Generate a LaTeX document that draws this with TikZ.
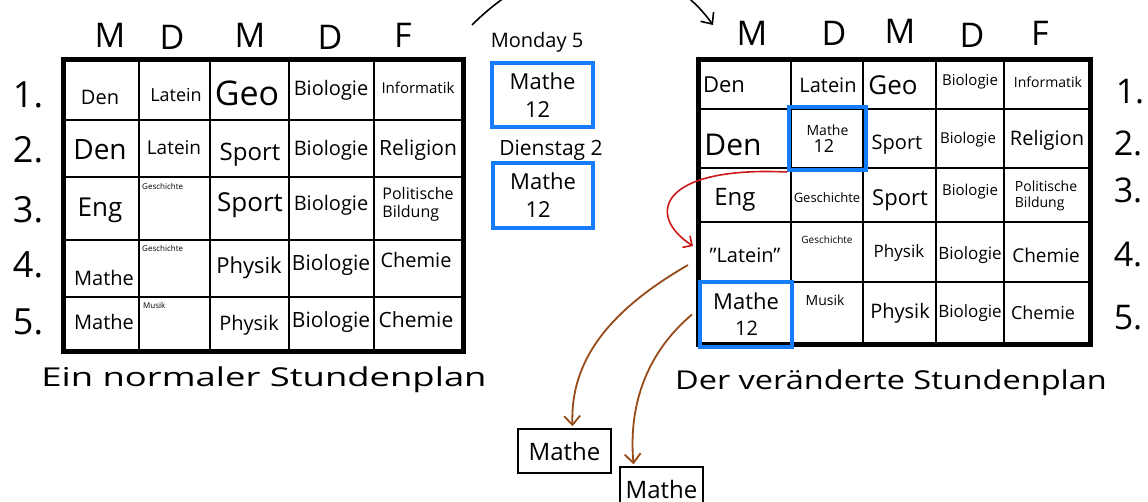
\documentclass[tikz,border=0pt]{standalone}
\usepackage{fontspec}
\setmainfont{Open Sans}
\usetikzlibrary{arrows.meta}
\newcommand\hfs[1]{\fontsize{#1}{#1}\selectfont}
\definecolor{bbox}{RGB}{22,124,250}
\definecolor{redarr}{RGB}{205,25,25}
\definecolor{brownarr}{RGB}{150,75,25}
\begin{document}
\begin{tikzpicture}[x=1pt,y=-1pt,
  tblframe/.style={line width=5pt},
  tblgrid/.style={line width=1.8pt},
  lbl/.style={inner sep=0pt},
  bluebox/.style={draw=bbox, line width=4pt, inner sep=0pt, align=left},
  plainbox/.style={draw, line width=1.5pt, inner sep=0pt},
  redconn/.style={draw=redarr, line width=1.6pt, -{Straight Barb[length=7pt,width=14pt]}},
  brownconn/.style={draw=brownarr, line width=1.8pt, -{Straight Barb[length=9pt,width=16pt]}},
  topconn/.style={draw, line width=1.6pt, -{Straight Barb[length=9pt,width=16pt]}}
]
\useasboundingbox (0,0) rectangle (1148,502);
\fill[white] (0,0) rectangle (1148,502);

% ---------------- left table ----------------
\foreach \x in {139,210,289,374} \draw[tblgrid] (\x,60) -- (\x,352);
\foreach \y in {120,177,240,297} \draw[tblgrid] (63,\y) -- (463,\y);
\draw[tblframe] (63,60) rectangle (463,352);

\node[lbl] (ldM1) at (110,35) {\hfs{34}M};
\node[lbl] (ldD1) at (172,37) {\hfs{34}D};
\node[lbl] (ldM2) at (250,35) {\hfs{34}M};
\node[lbl] (ldD2) at (330,37) {\hfs{34}D};
\node[lbl] (ldF)  at (403,35) {\hfs{34}F};

\node[lbl] (ln1) at (28,95)  {\hfs{36}1.};
\node[lbl] (ln2) at (28,150) {\hfs{36}2.};
\node[lbl] (ln3) at (28,210) {\hfs{36}3.};
\node[lbl] (ln4) at (28,265) {\hfs{36}4.};
\node[lbl] (ln5) at (28,322) {\hfs{36}5.};

\node[lbl] (l11) at (100,97)  {\hfs{20}Den};
\node[lbl] (l12) at (176,95)  {\hfs{18}Latein};
\node[lbl] (l13) at (247,93)  {\hfs{34}Geo};
\node[lbl] (l14) at (331,90)  {\hfs{20}Biologie};
\node[lbl] (l15) at (418,88)  {\hfs{15}Informatik};
\node[lbl] (l21) at (100,150) {\hfs{28}Den};
\node[lbl] (l22) at (174,148) {\hfs{19}Latein};
\node[lbl] (l23) at (250,155) {\hfs{24}Sport};
\node[lbl] (l24) at (331,150) {\hfs{20}Biologie};
\node[lbl] (l25) at (418,150) {\hfs{21}Religion};
\node[lbl] (l31) at (100,210) {\hfs{26}Eng};
\node[lbl, anchor=north west] (l32) at (142,183) {\hfs{8}Geschichte};
\node[lbl] (l33) at (250,205) {\hfs{26}Sport};
\node[lbl] (l34) at (331,205) {\hfs{20}Biologie};
\node[lbl, align=left, font=\hfs{16}] (l35) at (418,204) {Politische\\[2pt]Bildung};
\node[lbl] (l41) at (104,278) {\hfs{20}Mathe};
\node[lbl, anchor=north west] (l42) at (142,245) {\hfs{8}Geschichte};
\node[lbl] (l43) at (249,268) {\hfs{22}Physik};
\node[lbl] (l44) at (331,265) {\hfs{21}Biologie};
\node[lbl] (l45) at (416,260) {\hfs{20}Chemie};
\node[lbl] (l51) at (104,322) {\hfs{20}Mathe};
\node[lbl, anchor=north west] (l52) at (143,302) {\hfs{8}Musik};
\node[lbl] (l53) at (249,325) {\hfs{20}Physik};
\node[lbl] (l54) at (331,322) {\hfs{21}Biologie};
\node[lbl] (l55) at (416,320) {\hfs{21}Chemie};

\node[lbl] (lcap) at (264,380) {\scalebox{1.4}[1]{\hfs{26}Ein normaler Stundenplan}};

% ---------------- middle ----------------
\node[lbl] (mon) at (537,42) {\hfs{20}Monday 5};
\node[bluebox, font=\hfs{22}, minimum width=101, minimum height=64] (mbox1) at (542.5,95)
  {Mathe\\[6pt]\hspace*{0.7em}12};
\node[lbl] (die) at (551,150) {\hfs{21}Dienstag 2};
\node[bluebox, font=\hfs{22}, minimum width=100, minimum height=65] (mbox2) at (543,195.5)
  {Mathe\\[6pt]\hspace*{0.7em}12};

% ---------------- right table ----------------
\foreach \x in {791,863,936,1004} \draw[tblgrid] (\x,60) -- (\x,345);
\foreach \y in {109,168,222,282} \draw[tblgrid] (698,\y) -- (1090,\y);
\draw[tblframe] (698,60) rectangle (1090,345);

\node[lbl] (rdM1) at (752,33) {\hfs{34}M};
\node[lbl] (rdD1) at (834,33) {\hfs{34}D};
\node[lbl] (rdM2) at (900,31) {\hfs{34}M};
\node[lbl] (rdD2) at (972,35) {\hfs{34}D};
\node[lbl] (rdF)  at (1040,33) {\hfs{34}F};

\node[lbl] (rn1) at (1130,92)  {\hfs{34}1.};
\node[lbl] (rn2) at (1128,143) {\hfs{34}2.};
\node[lbl] (rn3) at (1128,190) {\hfs{34}3.};
\node[lbl] (rn4) at (1128,255) {\hfs{34}4.};
\node[lbl] (rn5) at (1128,318) {\hfs{34}5.};

\node[lbl] (r11) at (724,85)  {\hfs{22}Den};
\node[lbl] (r12) at (828,85)  {\hfs{20}Latein};
\node[lbl] (r13) at (893,85)  {\hfs{26}Geo};
\node[lbl] (r14) at (970,82)  {\hfs{15}Biologie};
\node[lbl] (r15) at (1048,82) {\hfs{14}Informatik};
\node[lbl] (r21) at (733,145) {\hfs{30}Den};
\node[lbl] (r23) at (897,145) {\hfs{20}Sport};
\node[lbl] (r24) at (968,140) {\hfs{15}Biologie};
\node[lbl] (r25) at (1047,140) {\hfs{20}Religion};
\node[lbl] (r31) at (735,200) {\hfs{24}Eng};
\node[lbl] (r32) at (827,198) {\hfs{13}Geschichte};
\node[lbl] (r33) at (900,200) {\hfs{22}Sport};
\node[lbl] (r34) at (970,192) {\hfs{15}Biologie};
\node[lbl, align=left, font=\hfs{14}] (r35) at (1046,196) {Politische\\[2pt]Bildung};
\node[lbl] (r41) at (745,255) {\hfs{20}"Latein"};
\node[lbl] (r42) at (827,240) {\hfs{10}Geschichte};
\node[lbl] (r43) at (899,253) {\hfs{17}Physik};
\node[lbl] (r44) at (970,255) {\hfs{17}Biologie};
\node[lbl] (r45) at (1046,255) {\hfs{19}Chemie};
\node[lbl] (r52) at (825,300) {\hfs{14}Musik};
\node[lbl] (r53) at (900,313) {\hfs{20}Physik};
\node[lbl] (r54) at (970,313) {\hfs{17}Biologie};
\node[lbl] (r55) at (1043,313) {\hfs{18}Chemie};

\node[bluebox, font=\hfs{14}, minimum width=77, minimum height=63] (r22) at (827.5,138.5)
  {Mathe\\[3pt]\hspace*{0.5em}\hfs{18}12};
\node[bluebox, font=\hfs{22}, minimum width=92, minimum height=65] (r51) at (746,314.5)
  {Mathe\\[4pt]\hspace*{1em}\hfs{20}12};

\node[lbl] (rcap) at (891,383) {\scalebox{1.25}[1]{\hfs{26}Der veränderte Stundenplan}};

% ---------------- bottom boxes ----------------
\node[plainbox, minimum width=93, minimum height=44] (b1) at (564.5,451) {\hfs{24}Mathe};
\node[plainbox, minimum width=83, minimum height=44] (b2) at (661.5,489) {\hfs{24}Mathe};

% ---------------- connectors ----------------
\coordinate (redend) at (693,246);
\draw[redconn] (r22.south west) .. controls (660,166) and (645,215) .. (redend);

\coordinate (br1start) at (688,265);
\draw[brownconn] (br1start) .. controls (610,310) and (570,360) .. ([xshift=8pt,yshift=2pt]b1.north);
\draw[brownconn] ([xshift=-6pt]r51.west) .. controls (650,350) and (628,400) .. ([xshift=-28pt,yshift=2pt]b2.north);

\begin{scope}
\clip (0,0) rectangle (1148,502);
\coordinate (topstart) at (472,25);
\coordinate (topend) at (713,25);
\draw[topconn] (topstart) .. controls (560,-63) and (663,-45) .. (topend);
\end{scope}
\end{tikzpicture}
\end{document}
